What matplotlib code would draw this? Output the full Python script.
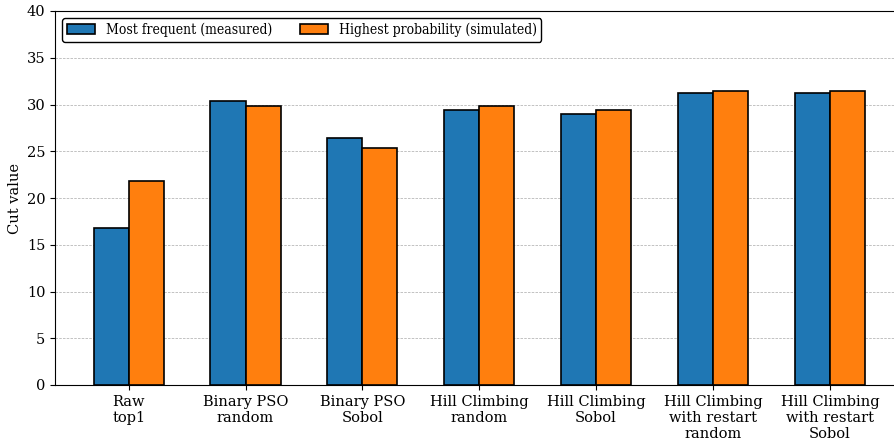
import matplotlib

matplotlib.use("Agg")
import matplotlib.pyplot as plt
import numpy as np
from matplotlib.font_manager import FontProperties

methods = [
    "Raw\ntop1",
    "Binary PSO\nrandom",
    "Binary PSO\nSobol",
    "Hill Climbing\nrandom",
    "Hill Climbing\nSobol",
    "Hill Climbing\nwith restart\nrandom",
    "Hill Climbing\nwith restart\nSobol",
]
measured = [16.8, 30.4, 26.4, 29.4, 29.0, 31.2, 31.2]
simulated = [21.8, 29.8, 25.4, 29.8, 29.4, 31.4, 31.4]

plt.rcParams["font.family"] = "DejaVu Serif"
plt.rcParams["font.size"] = 10.5

fig = plt.figure(figsize=(8.94, 4.42), dpi=100)
ax = fig.add_axes([55 / 894, 57 / 442, 848.5 / 894, 374 / 442])

x = np.arange(len(methods))
width = 0.3
ax.bar(x - width / 2, measured, width, color="#1f77b4", edgecolor="black",
       linewidth=1.2, label="Most frequent (measured)", zorder=3)
ax.bar(x + width / 2, simulated, width, color="#ff7f0e", edgecolor="black",
       linewidth=1.2, label="Highest probability (simulated)", zorder=3)

ax.set_xticks(x)
ax.set_xticklabels(methods)
ax.set_xlim(-0.63, 6.63)
ax.set_ylim(0, 40)
ax.set_ylabel("Cut value", labelpad=3)
ax.grid(axis="y", linestyle=(0, (3, 1.5)), color="#999999", alpha=0.7,
        linewidth=0.6, zorder=0)

legend_font = FontProperties(family="DejaVu Serif", stretch="condensed", size=10.0)
ax.legend(loc="upper left", ncol=2, edgecolor="black", fancybox=True,
          framealpha=1, prop=legend_font, borderaxespad=0.5, columnspacing=2.0,
          borderpad=0.35)

fig.savefig("out.png", dpi=100)
plt.close(fig)
